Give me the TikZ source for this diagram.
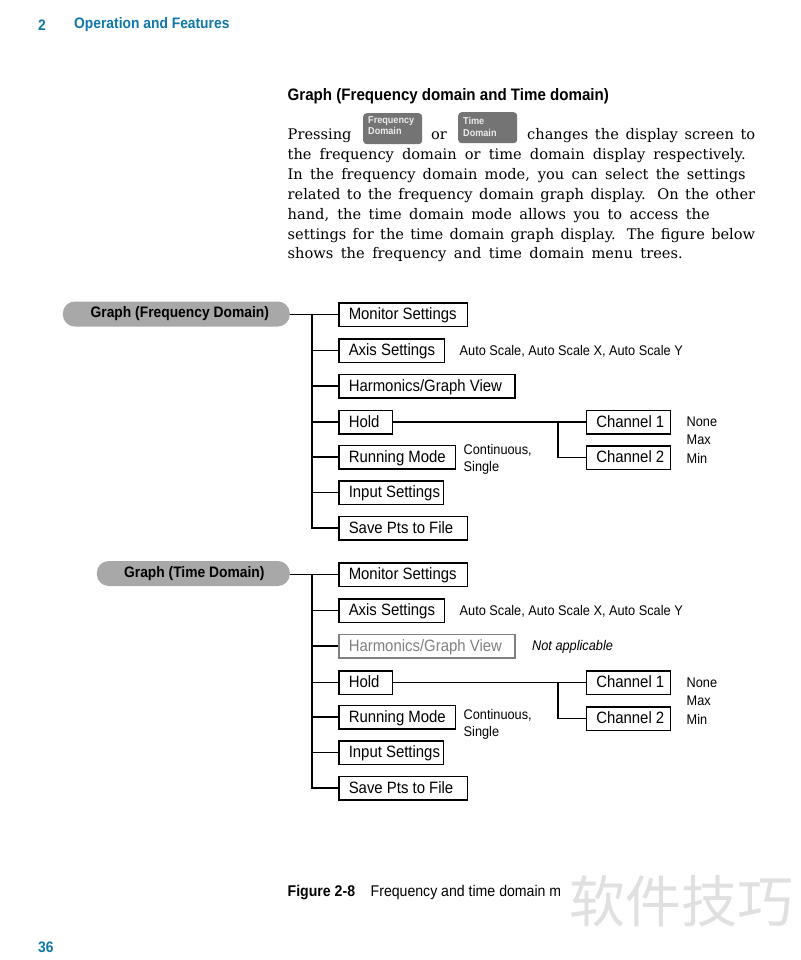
\documentclass[tikz,border=0pt]{standalone}
\usepackage{fontspec}
\setmainfont{DejaVu Serif}
\newfontfamily\cond[FakeStretch=0.91]{Liberation Sans}
\newfontfamily\cjkfont{Noto Sans CJK SC}
\definecolor{hdrblue}{HTML}{0F78A8}
\definecolor{pillgray}{HTML}{A8A8A8}
\definecolor{btngray}{HTML}{747474}
\definecolor{wmgray}{HTML}{E0E0E0}
\tikzset{
  mbox/.style={draw=black,line width=1.5pt,anchor=west,inner xsep=0pt,inner ysep=0pt,
    minimum width=#1,minimum height=23.5pt,text height=13pt,text depth=3pt,font=\cond\fontsize{16.4}{18}\selectfont,fill=white},
  pill/.style={fill=pillgray,rounded corners=12pt,anchor=east,minimum height=25pt,inner sep=0pt,
    font=\cond\bfseries\fontsize{15.2}{18}\selectfont},
  wire/.style={draw=black,line width=1.5pt},
  note/.style={anchor=west,inner sep=0pt,font=\cond\fontsize{14}{18}\selectfont},
  body/.style={anchor=base west,inner sep=0pt,font=\fontsize{14.6}{16}\selectfont},
  btn/.style={fill=btngray,rounded corners=3.5pt,anchor=north west,minimum width=59pt,minimum height=31pt,inner sep=0pt},
  btntext/.style={anchor=west,inner sep=0pt,text=white!85!gray,font=\cond\bfseries\fontsize{10}{10}\selectfont},
}
\newcommand{\lbl}[2]{\hbox to #1{\hspace{10pt}#2\hfil}}
\begin{document}
\begin{tikzpicture}[x=1pt,y=-1pt]
\useasboundingbox (0,0) rectangle (800,960);
\fill[white] (0,0) rectangle (800,960);
% header and footer
\node[anchor=west,inner sep=0pt,text=hdrblue,font=\cond\bfseries\fontsize{15.2}{18}\selectfont] (hn) at (38,25) {2};
\node[anchor=west,inner sep=0pt,text=hdrblue,font=\cond\bfseries\fontsize{15.2}{18}\selectfont] (ht) at (74,25) {Operation and Features};
\node[anchor=west,inner sep=0pt,text=hdrblue,font=\cond\bfseries\fontsize{15.2}{18}\selectfont] (pg) at (38,947) {36};
% heading
\node[anchor=west,inner sep=0pt,font=\cond\bfseries\fontsize{16.6}{20}\selectfont] (head) at (287.5,96) {Graph (Frequency domain and Time domain)};
% body
\node[body] (l1a) at (287.5,140) {Pressing};
\node[btn] (b1) at (363,113) {};
\node[btntext] (b1a) at (368,121) {Frequency};
\node[btntext] (b1b) at (368,130.5) {Domain};
\node[body] (l1b) at (431,140) {or};
\node[btn] (b2) at (458,112) {};
\node[btntext] (b2a) at (463,121) {Time};
\node[btntext] (b2b) at (463,133) {Domain};
\node[body] (l1c) at (527,140) {\makebox[228pt][s]{changes the display screen to}};
\node[body] (l2) at (287.5,159.5) {\makebox[458pt][s]{the frequency domain or time domain display respectively.}};
\node[body] (l3) at (287.5,179.5) {\makebox[458pt][s]{In the frequency domain mode, you can select the settings}};
\node[body] (l4) at (287.5,199) {\makebox[467.5pt][s]{related to the frequency domain graph display. On the other}};
\node[body] (l5) at (287.5,219) {\makebox[422pt][s]{hand, the time domain mode allows you to access the}};
\node[body] (l6) at (287.5,239) {\makebox[467.5pt][s]{settings for the time domain graph display. The figure below}};
\node[body] (l7) at (287.5,258.5) {\makebox[395pt][s]{shows the frequency and time domain menu trees.}};
% upper tree
\node[pill,minimum width=227pt] (p1) at (290,314) {\raisebox{1pt}{\hspace{7pt}Graph (Frequency Domain)}};
\coordinate (t1) at (312,314.5);
\node[mbox=128.5pt] (a1) at (338,314.5) {\lbl{128.5pt}{Monitor Settings}};
\node[mbox=105.5pt] (a2) at (338,350.5) {\lbl{105.5pt}{Axis Settings}};
\node[mbox=176pt] (a3) at (338,386) {\lbl{176pt}{Harmonics/Graph View}};
\node[mbox=53.5pt] (a4) at (338,422) {\lbl{53.5pt}{Hold}};
\node[mbox=116.5pt] (a5) at (338,457) {\lbl{116.5pt}{Running Mode}};
\node[mbox=104.5pt] (a6) at (338,492.5) {\lbl{104.5pt}{Input Settings}};
\node[mbox=128.5pt] (a7) at (338,528) {\lbl{128.5pt}{Save Pts to File}};
\node[mbox=84pt] (c1) at (585.5,422) {\lbl{84pt}{Channel 1}};
\node[mbox=84pt] (c2) at (585.5,457.5) {\lbl{84pt}{Channel 2}};
\coordinate (s1) at (558,422);
\draw[wire] (p1.east |- a1.west) -- (a1.west);
\draw[wire] (t1) |- (a7.west);
\foreach \k in {2,...,6} \draw[wire] (t1 |- a\k.west) -- (a\k.west);
\draw[wire] (a4.east) -- (c1.west);
\draw[wire] (s1) |- (c2.west);
\node[note] (n1) at (459.5,351) {Auto Scale, Auto Scale X, Auto Scale Y};
\node[note] (n2) at (463.5,450) {Continuous,};
\node[note] (n3) at (463.5,467.5) {Single};
\node[note] (n4) at (686.5,422) {None};
\node[note] (n5) at (686.5,440) {Max};
\node[note] (n6) at (686.5,458) {Min};
% lower tree
\node[pill,minimum width=193pt] (p2) at (290,573.5) {\raisebox{1pt}{\hspace{2pt}Graph (Time Domain)}};
\coordinate (t2) at (312,574.5);
\node[mbox=128.5pt] (d1) at (338,574.5) {\lbl{128.5pt}{Monitor Settings}};
\node[mbox=105.5pt] (d2) at (338,610.5) {\lbl{105.5pt}{Axis Settings}};
\node[mbox=176pt,draw=gray,text=gray] (d3) at (338,646) {\lbl{176pt}{Harmonics/Graph View}};
\node[mbox=53.5pt] (d4) at (338,682.5) {\lbl{53.5pt}{Hold}};
\node[mbox=116.5pt] (d5) at (338,717) {\lbl{116.5pt}{Running Mode}};
\node[mbox=104.5pt] (d6) at (338,752.5) {\lbl{104.5pt}{Input Settings}};
\node[mbox=128.5pt] (d7) at (338,788) {\lbl{128.5pt}{Save Pts to File}};
\node[mbox=84pt] (e1) at (585.5,682.5) {\lbl{84pt}{Channel 1}};
\node[mbox=84pt] (e2) at (585.5,718.5) {\lbl{84pt}{Channel 2}};
\coordinate (s2) at (558,682.5);
\draw[wire] (p2.east |- d1.west) -- (d1.west);
\draw[wire] (t2) |- (d7.west);
\foreach \k in {2,...,6} \draw[wire] (t2 |- d\k.west) -- (d\k.west);
\draw[wire] (d4.east) -- (e1.west);
\draw[wire] (s2) |- (e2.west);
\node[note] (m1) at (459.5,611) {Auto Scale, Auto Scale X, Auto Scale Y};
\node[note,font=\cond\itshape\fontsize{14}{18}\selectfont] (m0) at (532,646.5) {Not applicable};
\node[note] (m2) at (463.5,715) {Continuous,};
\node[note] (m3) at (463.5,732.5) {Single};
\node[note] (m4) at (686.5,683) {None};
\node[note] (m5) at (686.5,701) {Max};
\node[note] (m6) at (686.5,719) {Min};
% caption and watermark
\node[anchor=west,inner sep=0pt,font=\cond\bfseries\fontsize{15.5}{18}\selectfont] (fig) at (287.5,892.5) {Figure 2-8};
\node[anchor=west,inner sep=0pt,font=\cond\fontsize{15.5}{18}\selectfont] (cap) at (370.5,892.5) {Frequency and time domain m};
\fill[white] (560,870) rectangle (800,935);
\node[anchor=center,inner sep=0pt,text=wmgray,font=\cjkfont\fontsize{56}{60}\selectfont] (wm) at (681,901) {软件技巧};
\end{tikzpicture}
\end{document}
